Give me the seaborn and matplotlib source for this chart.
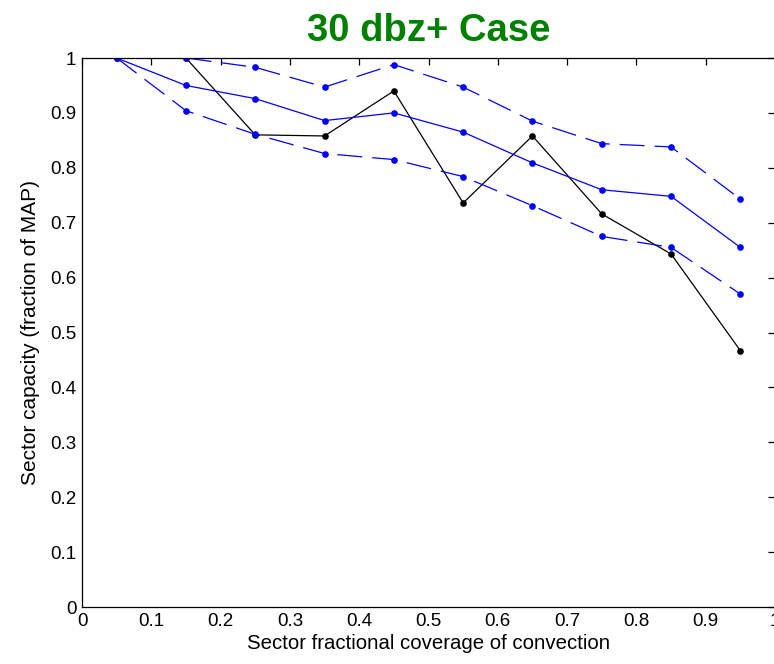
import matplotlib
matplotlib.use("Agg")
import matplotlib.pyplot as plt
import seaborn as sns
import pandas as pd

coverage = [0.05, 0.15, 0.25, 0.35, 0.45, 0.55, 0.65, 0.75, 0.85, 0.95]
observed = [None, 1.0, 0.860, 0.858, 0.940, 0.736, 0.858, 0.716, 0.643, 0.467]
mean_cap = [1.0, 0.950, 0.926, 0.886, 0.900, 0.865, 0.809, 0.760, 0.748, 0.655]
upper_cap = [1.0, 1.0, 0.983, 0.947, 0.988, 0.947, 0.885, 0.844, 0.838, 0.743]
lower_cap = [1.0, 0.904, 0.861, 0.826, 0.815, 0.784, 0.731, 0.675, 0.655, 0.570]

x_ticks = [0, 0.1, 0.2, 0.3, 0.4, 0.5, 0.6, 0.7, 0.8, 0.9, 1]
x_tick_labels = ["0", "0.1", "0.2", "0.3", "0.4", "0.5", "0.6", "0.7", "0.8", "0.9", "1"]
y_ticks = [0, 0.1, 0.2, 0.3, 0.4, 0.5, 0.6, 0.7, 0.8, 0.9, 1]
y_tick_labels = ["0", "0.1", "0.2", "0.3", "0.4", "0.5", "0.6", "0.7", "0.8", "0.9", "1"]

sns.set_style("white")
plt.rcParams['font.family'] = ['Liberation Sans', 'DejaVu Sans']

fig = plt.figure(figsize=(7.74, 6.64), dpi=100)
ax = fig.add_axes([82 / 774, 57 / 664, 693 / 774, 549 / 664])

df = pd.DataFrame({"x": coverage, "obs": observed, "mean": mean_cap,
                   "up": upper_cap, "lo": lower_cap})

sns.lineplot(data=df.dropna(subset=["obs"]), x="x", y="obs", ax=ax, color="black",
             lw=0.9, marker="o", markersize=4.8, markeredgewidth=0)
sns.lineplot(data=df, x="x", y="mean", ax=ax, color="#0000ff", lw=0.9,
             marker="o", markersize=4.8, markeredgewidth=0)
for col in ["up", "lo"]:
    line = sns.lineplot(data=df, x="x", y=col, ax=ax, color="#0000ff", lw=0.9,
                        marker="o", markersize=4.8, markeredgewidth=0).lines[-1]
    line.set_dashes([20, 8])

ax.set_xlim(0, 1)
ax.set_ylim(0, 1)
ax.set_xticks(x_ticks)
ax.set_xticklabels(x_tick_labels)
ax.set_yticks(y_ticks)
ax.set_yticklabels(y_tick_labels)
ax.tick_params(direction="in", length=5, width=0.9, top=True, right=True,
               labelsize=13.5, colors="black", labelcolor="black", pad=4)
for s in ax.spines.values():
    s.set_visible(True)
    s.set_color("black")
    s.set_linewidth(0.9)

ax.set_xlabel("Sector fractional coverage of convection", fontsize=14.7,
              labelpad=3, color="black")
ax.set_ylabel("Sector capacity (fraction of MAP)", fontsize=15,
              labelpad=7, color="black")
ax.set_title("30 dbz+ Case", fontsize=27.5, fontweight="bold", color="#008000", pad=12)

fig.savefig("out.png", dpi=100)
